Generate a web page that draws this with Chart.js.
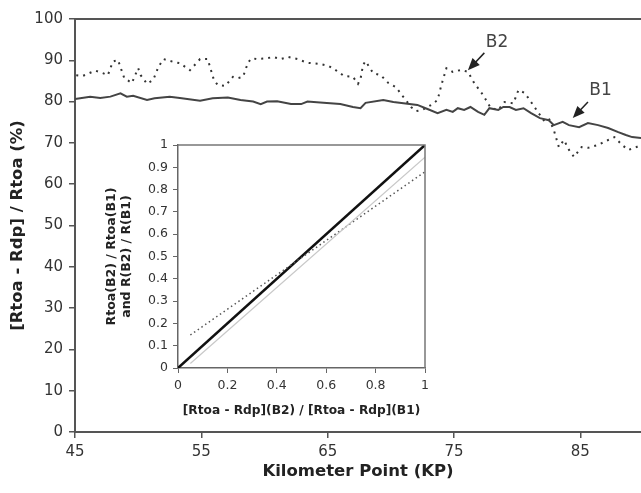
<!DOCTYPE html>
<html>
<head>
<meta charset="utf-8">
<script src="https://cdn.jsdelivr.net/npm/chart.js@4.4.0/dist/chart.umd.min.js"></script>
<style>
  html, body { margin: 0; padding: 0; background: #fff; }
  #wrap { position: relative; width: 641px; height: 493px; overflow: hidden; }
  #main { position: absolute; left: 0; top: 0; }
  #inset { position: absolute; left: 95px; top: 130px; }
</style>
</head>
<body>
<div id="wrap">
  <canvas id="main" width="641" height="493"></canvas>
  <canvas id="inset" width="345" height="300"></canvas>
</div>
<script>
// main plot: ratio along the kilometer points
const xTicks = [45, 55, 65, 75, 85];

const b1Kp = [45.0, 46.2, 47.0, 47.8, 48.6, 49.1, 49.6, 50.7, 51.3, 52.5, 53.3, 54.9, 55.9, 57.1, 58.1,
  59.1, 59.7, 60.2, 61.0, 62.1, 62.9, 63.4, 64.4, 65.2, 66.0, 67.0, 67.6, 68.0, 69.4, 70.2,
  71.0, 72.1, 72.9, 73.7, 74.4, 74.9, 75.3, 75.8, 76.3, 76.9, 77.4, 77.8, 78.5, 78.9, 79.4,
  79.9, 80.5, 81.1, 81.8, 82.5, 82.9, 83.6, 84.1, 84.9, 85.6, 86.4, 87.2, 88.0, 88.6, 89.1, 89.8];
const b1Pct = [80.6, 81.2, 80.9, 81.2, 82.0, 81.2, 81.4, 80.4, 80.8, 81.2, 80.9, 80.2, 80.8, 81.0, 80.4,
  80.0, 79.4, 80.0, 80.1, 79.4, 79.4, 80.0, 79.8, 79.6, 79.4, 78.7, 78.4, 79.7, 80.4, 79.9,
  79.6, 79.2, 78.2, 77.2, 78.0, 77.5, 78.4, 78.0, 78.7, 77.5, 76.8, 78.4, 78.0, 78.7, 78.7,
  78.0, 78.4, 77.2, 76.0, 75.5, 74.3, 75.1, 74.3, 73.8, 74.8, 74.3, 73.6, 72.6, 71.9, 71.4, 71.2];

const b2Kp = [45.1, 45.6, 46.6, 47.2, 47.6, 48.0, 48.4, 48.9, 49.5, 50.0, 50.2, 50.7, 51.2, 51.6, 52.0,
  52.8, 53.3, 54.1, 54.9, 55.5, 56.0, 56.3, 56.9, 57.5, 57.9, 58.3, 58.7, 59.0, 59.4, 60.2,
  60.7, 61.3, 61.9, 62.6, 63.4, 64.4, 65.1, 65.6, 66.3, 67.0, 67.4, 67.6, 67.8, 68.0, 68.6,
  69.2, 69.8, 70.4, 71.0, 71.6, 72.0, 72.5, 73.2, 73.7, 74.0, 74.4, 74.9, 75.6, 76.1, 76.6,
  77.3, 77.9, 78.5, 79.0, 79.7, 80.1, 80.6, 81.1, 81.7, 82.1, 82.5, 82.9, 83.3, 83.7, 84.1,
  84.5, 85.1, 85.6, 86.4, 87.2, 87.7, 88.3, 88.8, 89.3, 89.8];
const b2Pct = [86.4, 86.2, 87.5, 86.9, 86.4, 89.7, 90.1, 85.7, 84.5, 88.1, 86.4, 84.3, 85.3, 88.4, 90.3,
  89.6, 89.3, 87.6, 90.3, 90.3, 85.2, 84.0, 83.8, 86.0, 85.7, 86.0, 89.5, 90.5, 90.3, 90.5,
  90.8, 90.3, 90.8, 90.3, 89.4, 89.1, 88.6, 87.7, 86.2, 86.0, 84.3, 85.5, 88.9, 89.8, 86.9,
  86.4, 84.5, 83.5, 81.1, 78.7, 77.7, 78.0, 79.2, 80.4, 84.0, 88.1, 87.2, 87.7, 87.2, 84.5,
  81.6, 78.5, 78.0, 79.9, 79.6, 82.8, 82.1, 79.9, 77.2, 75.5, 76.0, 73.1, 69.0, 70.7, 68.3,
  66.6, 69.0, 68.8, 69.5, 70.7, 71.4, 69.5, 68.3, 68.8, 69.5];

// inset: ratio lines
const identityX = [0, 1];
const identityY = [0, 1];
const lightLineX = [0.05, 1];
const lightLineY = [0.02, 0.945];
const dottedLineX = [0.05, 1];
const dottedLineY = [0.148, 0.88];

const FONT = 'DejaVu Sans, sans-serif';
const toPoints = (xs, ys) => xs.map((x, i) => ({ x: x, y: ys[i] }));

function drawArrow(ctx, x1, y1, x2, y2) {
    const ang = Math.atan2(y2 - y1, x2 - x1);
    ctx.beginPath();
    ctx.moveTo(x1, y1);
    ctx.lineTo(x2 - 8 * Math.cos(ang), y2 - 8 * Math.sin(ang));
    ctx.stroke();
    ctx.beginPath();
    ctx.moveTo(x2, y2);
    ctx.lineTo(x2 - 12 * Math.cos(ang) + 5 * Math.sin(ang), y2 - 12 * Math.sin(ang) - 5 * Math.cos(ang));
    ctx.lineTo(x2 - 12 * Math.cos(ang) - 5 * Math.sin(ang), y2 - 12 * Math.sin(ang) + 5 * Math.cos(ang));
    ctx.closePath();
    ctx.fill();
}

// frame line on top + B1/B2 labels with arrows
const mainDecor = {
    id: 'mainDecor',
    afterDatasetsDraw(chart) {
        const { ctx, chartArea, scales } = chart;
        const px = v => scales.x.getPixelForValue(v);
        const py = v => scales.y.getPixelForValue(v);
        ctx.save();
        ctx.strokeStyle = '#555';
        ctx.lineWidth = 2;
        ctx.beginPath();
        ctx.moveTo(chartArea.left, chartArea.top);
        ctx.lineTo(chartArea.right, chartArea.top);
        ctx.stroke();

        ctx.fillStyle = '#444';
        ctx.font = '17px ' + FONT;
        ctx.textAlign = 'center';
        ctx.textBaseline = 'middle';
        ctx.fillText('B2', px(78.4), py(94.4));
        ctx.fillText('B1', px(86.6), py(82.6));

        ctx.strokeStyle = '#222';
        ctx.fillStyle = '#222';
        ctx.lineWidth = 1.5;
        drawArrow(ctx, px(77.4), py(91.8), px(76.1), py(87.6));
        drawArrow(ctx, px(85.6), py(79.9), px(84.4), py(76.0));
        ctx.restore();
    }
};

new Chart(document.getElementById('main'), {
    type: 'line',
    data: {
        datasets: [{
            label: 'B1',
            data: toPoints(b1Kp, b1Pct),
            borderColor: '#444',
            borderWidth: 2,
            pointRadius: 0,
            tension: 0
        }, {
            label: 'B2',
            data: toPoints(b2Kp, b2Pct),
            borderColor: '#333',
            borderWidth: 2,
            borderDash: [2, 5],
            pointRadius: 0,
            tension: 0
        }]
    },
    options: {
        responsive: false,
        animation: false,
        layout: { padding: { top: 19, right: 0, left: 0, bottom: 0 } },
        plugins: { legend: { display: false }, tooltip: { enabled: false } },
        scales: {
            x: {
                type: 'linear',
                min: 45,
                max: 89.8,
                afterBuildTicks: scale => { scale.ticks = xTicks.map(v => ({ value: v })); },
                afterFit: scale => { scale.height = 61; },
                border: { color: '#555', width: 2 },
                grid: { drawOnChartArea: false, tickLength: 6, color: '#555', lineWidth: 1.5 },
                ticks: { color: '#333', font: { family: FONT, size: 15 }, padding: 5, maxRotation: 0 },
                title: {
                    display: true,
                    text: 'Kilometer Point (KP)',
                    color: '#222',
                    font: { family: FONT, size: 16.5, weight: 'bold' },
                    padding: { top: 0, bottom: 11 }
                }
            },
            y: {
                min: 0,
                max: 100,
                afterFit: scale => { scale.width = 75; },
                border: { color: '#555', width: 2 },
                grid: { drawOnChartArea: false, tickLength: 6, color: '#555', lineWidth: 1.5 },
                ticks: { stepSize: 10, color: '#333', font: { family: FONT, size: 15 }, padding: 6 },
                title: {
                    display: true,
                    text: '[Rtoa - Rdp] / Rtoa (%)',
                    color: '#222',
                    font: { family: FONT, size: 16.5, weight: 'bold' },
                    padding: { top: 8, bottom: 0 }
                }
            }
        }
    },
    plugins: [mainDecor]
});

// top and right frame of the inset
const insetFrame = {
    id: 'insetFrame',
    afterDatasetsDraw(chart) {
        const { ctx, chartArea } = chart;
        ctx.save();
        ctx.strokeStyle = '#777';
        ctx.lineWidth = 1.5;
        ctx.beginPath();
        ctx.moveTo(chartArea.left, chartArea.top);
        ctx.lineTo(chartArea.right, chartArea.top);
        ctx.lineTo(chartArea.right, chartArea.bottom);
        ctx.stroke();
        ctx.restore();
    }
};

const insetTick = v => String(+Number(v).toFixed(1));

new Chart(document.getElementById('inset'), {
    type: 'line',
    data: {
        datasets: [{
            data: toPoints(lightLineX, lightLineY),
            borderColor: '#c8c8c8',
            borderWidth: 1.2,
            pointRadius: 0
        }, {
            data: toPoints(dottedLineX, dottedLineY),
            borderColor: '#555',
            borderWidth: 1.5,
            borderDash: [1.5, 3],
            pointRadius: 0
        }, {
            data: toPoints(identityX, identityY),
            borderColor: '#111',
            borderWidth: 2.5,
            pointRadius: 0
        }]
    },
    options: {
        responsive: false,
        animation: false,
        layout: { padding: { top: 15, right: 15, left: 0, bottom: 0 } },
        plugins: { legend: { display: false }, tooltip: { enabled: false } },
        scales: {
            x: {
                type: 'linear',
                min: 0,
                max: 1,
                afterFit: scale => { scale.height = 62; },
                border: { color: '#666', width: 1.5 },
                grid: { drawOnChartArea: false, tickLength: 5, color: '#666' },
                ticks: { stepSize: 0.2, color: '#333', font: { family: FONT, size: 12.5 }, padding: 5, maxRotation: 0, callback: insetTick },
                title: {
                    display: true,
                    text: '[Rtoa - Rdp](B2) / [Rtoa - Rdp](B1)',
                    color: '#222',
                    font: { family: FONT, size: 12.2, weight: 'bold' },
                    padding: { top: 0, bottom: 12 }
                }
            },
            y: {
                min: 0,
                max: 1,
                afterFit: scale => { scale.width = 83; },
                border: { color: '#666', width: 1.5 },
                grid: { drawOnChartArea: false, tickLength: 5, color: '#666' },
                ticks: { stepSize: 0.1, color: '#333', font: { family: FONT, size: 12.5 }, padding: 5, callback: insetTick },
                title: {
                    display: true,
                    text: ['Rtoa(B2) / Rtoa(B1)', 'and R(B2) / R(B1)'],
                    color: '#222',
                    font: { family: FONT, size: 12.5, weight: 'bold' },
                    padding: { top: 9, bottom: 0 }
                }
            }
        }
    },
    plugins: [insetFrame]
});
</script>
</body>
</html>
